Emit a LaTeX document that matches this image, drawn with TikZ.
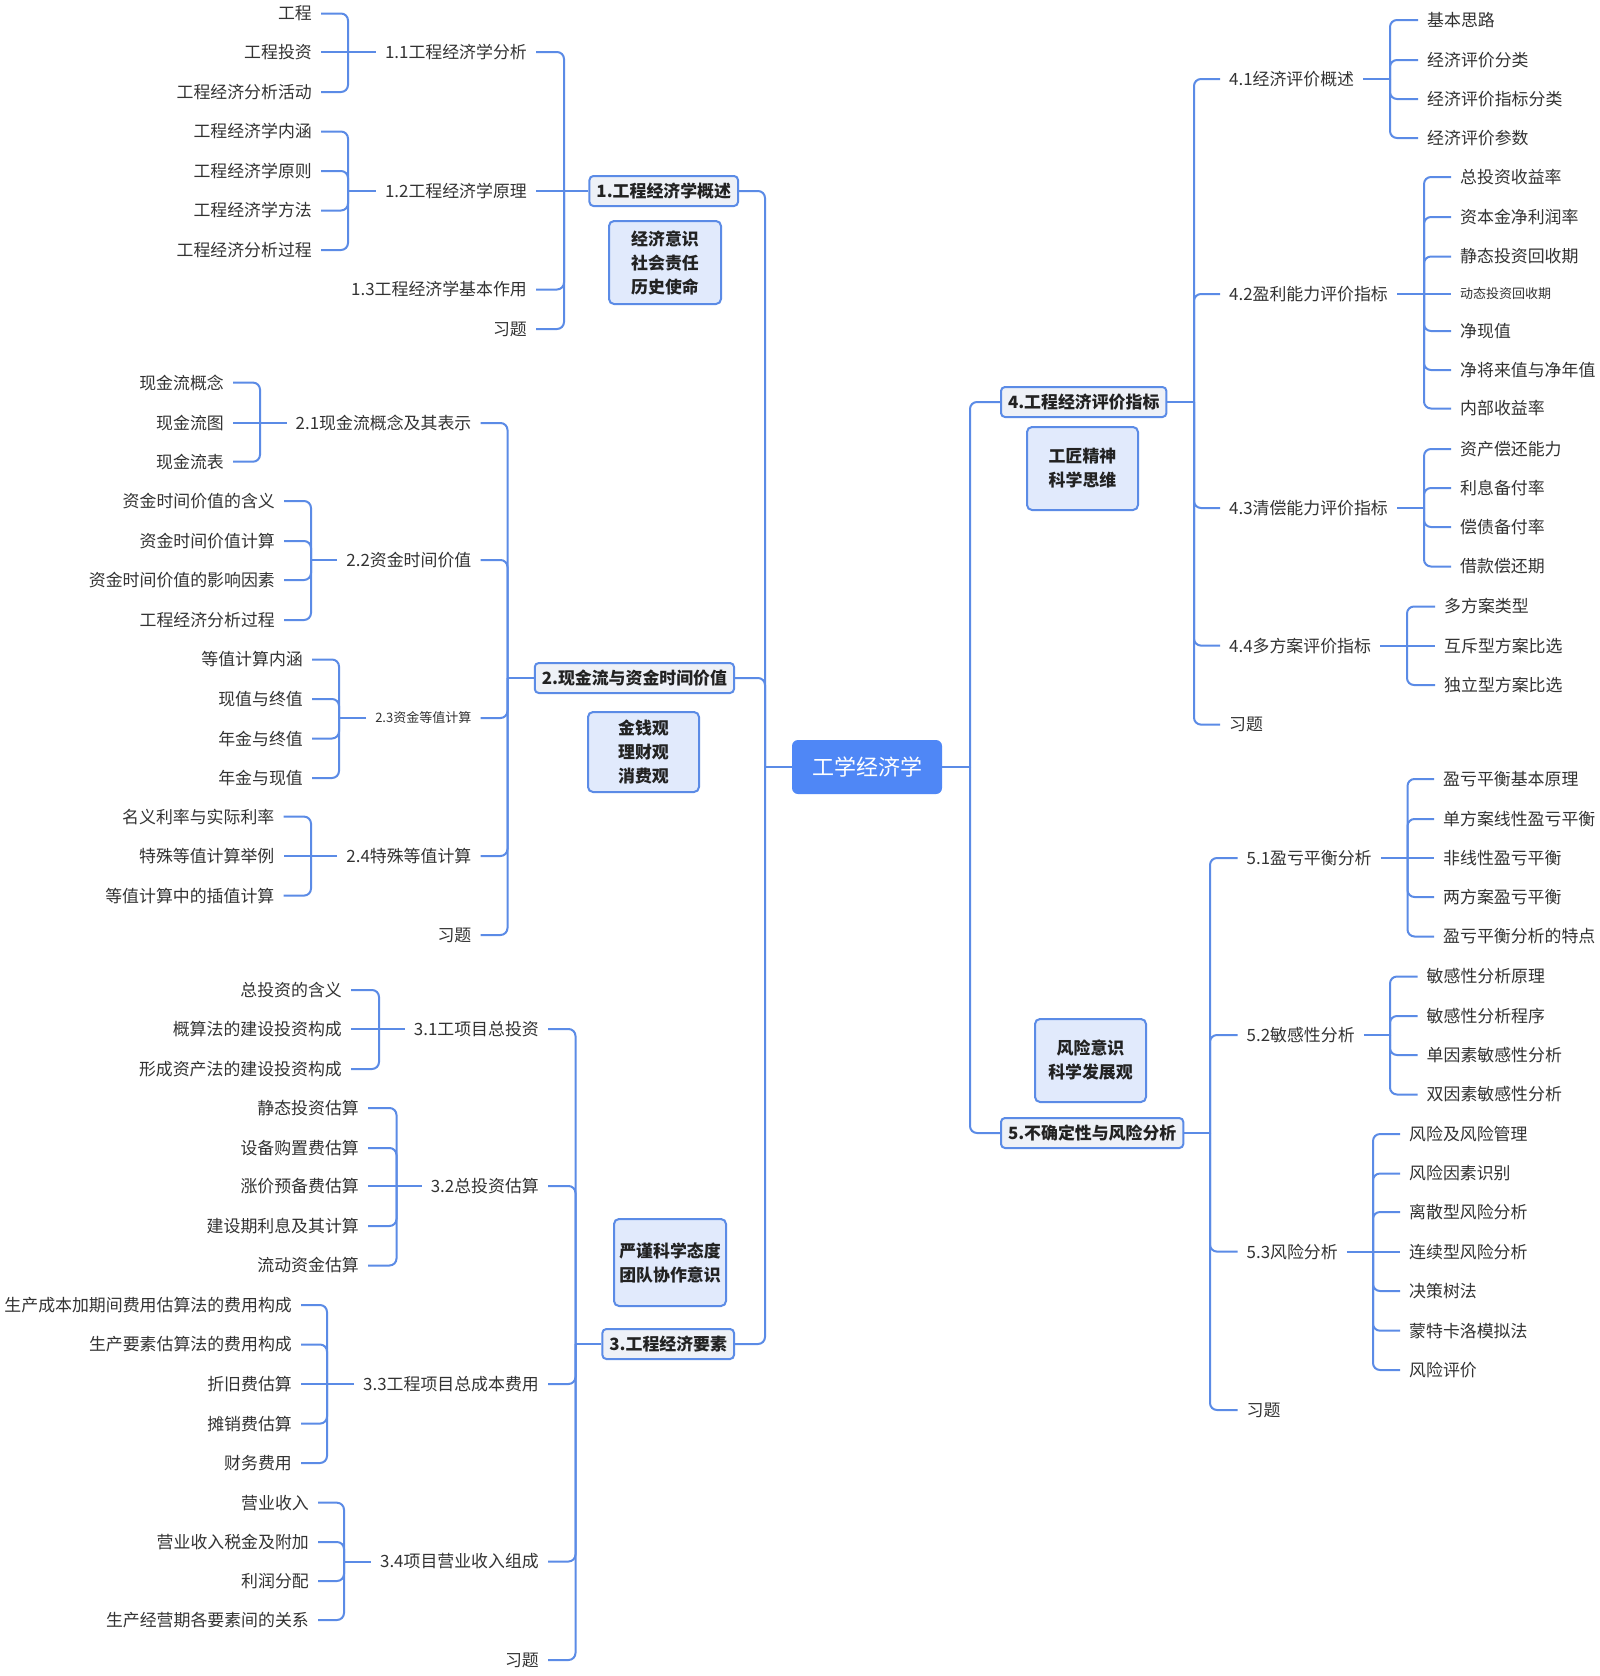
\documentclass[tikz,border=0pt]{standalone}
\usepackage{fontspec}
\setmainfont{Noto Sans CJK SC}
\definecolor{ln}{HTML}{5B8BE6}
\definecolor{rootc}{HTML}{4F87F6}
\definecolor{lonef}{HTML}{EEF1F7}
\definecolor{valf}{HTML}{E1EAFC}
\definecolor{txt}{HTML}{333333}
\definecolor{btxt}{HTML}{222222}
\tikzset{
 conn/.style={draw=ln, line width=2pt, rounded corners=7pt},
 leaf/.style={inner sep=0pt, text=txt, font=\fontsize{16.9}{20}\selectfont},
 L/.style={leaf, anchor=east},
 R/.style={leaf, anchor=west},
 sm/.style={font=\fontsize{13}{16}\selectfont},
 lone/.style={draw=ln, line width=2pt, fill=lonef, rounded corners=4pt, text=btxt, font=\bfseries\fontsize{16.9}{20}\selectfont, inner xsep=7pt, inner ysep=0pt, minimum height=30pt},
 valbox/.style={draw=ln, line width=2pt, fill=valf, rounded corners=5pt, text=btxt, font=\bfseries\fontsize{16.9}{24}\selectfont, align=center, inner sep=0pt},
 rootbox/.style={fill=rootc, rounded corners=6pt, text=white, font=\fontsize{22}{26}\selectfont, minimum width=150pt, minimum height=54pt, inner sep=0pt}
}
% left-side kid link, right-side kid link, straight variants, parent stubs
\newcommand\mmKL[2]{\draw[conn] (#1) |- ([xshift=9pt]#2.east);}
\newcommand\mmKR[2]{\draw[conn] (#1) |- ([xshift=-9pt]#2.west);}
\newcommand\mmSL[2]{\draw[conn] (#1) -- ([xshift=9pt]#2.east);}
\newcommand\mmSR[2]{\draw[conn] (#1) -- ([xshift=-9pt]#2.west);}
\newcommand\mmPL[2]{\draw[conn] ([xshift=-9pt]#1.west) -- (#2);}
\newcommand\mmPR[2]{\draw[conn] ([xshift=9pt]#1.east) -- (#2);}
\begin{document}
\begin{tikzpicture}[x=1pt,y=-1pt]
\fill[white] (0,0) rectangle (1600,1676);
\useasboundingbox (0,0) rectangle (1600,1676);

% ---------- root ----------
\node[rootbox] (root) at (867,767) {工学经济学};
\coordinate (ML) at (765,767);
\coordinate (MR) at (970,767);

% ---------- level 1 ----------
\node[lone, anchor=east] (b1) at (739,191) {1.工程经济学概述};
\node[lone, anchor=east] (b2) at (735,678) {2.现金流与资金时间价值};
\node[lone, anchor=east] (b3) at (735,1344) {3.工程经济要素};
\node[lone, anchor=west] (b4) at (1000,402) {4.工程经济评价指标};
\node[lone, anchor=west] (b5) at (1000,1133) {5.不确定性与风险分析};

% ---------- value boxes ----------
\node[valbox, minimum width=112pt, minimum height=83pt] (v1) at (665,262.5) {经济意识\\社会责任\\历史使命};
\node[valbox, minimum width=111pt, minimum height=80pt] (v2) at (643.5,752) {金钱观\\理财观\\消费观};
\node[valbox, minimum width=112pt, minimum height=87pt] (v3) at (670,1262.5) {严谨科学态度\\团队协作意识};
\node[valbox, minimum width=111pt, minimum height=83pt] (v4) at (1082.5,468.5) {工匠精神\\科学思维};
\node[valbox, minimum width=111pt, minimum height=83pt] (v5) at (1090.5,1060.5) {风险意识\\科学发展观};

\draw[conn] (root.west) -- (ML);
\draw[conn] (ML) |- (b1.east);
\draw[conn] (ML) |- (b2.east);
\draw[conn] (ML) |- (b3.east);
\draw[conn] (root.east) -- (MR);
\draw[conn] (MR) |- (b4.west);
\draw[conn] (MR) |- (b5.west);

% ---------- branch 1 ----------
\coordinate (S1) at (564,191);
\node[L] (n11) at (527,52) {1.1工程经济学分析};
\node[L] (n12) at (527,191) {1.2工程经济学原理};
\node[L] (n13) at (527,289.5) {1.3工程经济学基本作用};
\node[L] (n14) at (527,329) {习题};
\coordinate (S11) at (348,52);
\node[L] (a111) at (312,13.5) {工程};
\node[L] (a112) at (312,52) {工程投资};
\node[L] (a113) at (312,92) {工程经济分析活动};
\coordinate (S12) at (348,191);
\node[L] (a121) at (312,131.5) {工程经济学内涵};
\node[L] (a122) at (312,171) {工程经济学原则};
\node[L] (a123) at (312,210.5) {工程经济学方法};
\node[L] (a124) at (312,250) {工程经济分析过程};
\draw[conn] (b1.west) -- (S1);
\mmKL{S1}{n11}\mmSL{S1}{n12}\mmKL{S1}{n13}\mmKL{S1}{n14}
\mmPL{n11}{S11}\mmKL{S11}{a111}\mmSL{S11}{a112}\mmKL{S11}{a113}
\mmPL{n12}{S12}\mmKL{S12}{a121}\mmKL{S12}{a122}\mmKL{S12}{a123}\mmKL{S12}{a124}

% ---------- branch 2 ----------
\coordinate (S2) at (507.5,678);
\node[L] (n21) at (471.5,423) {2.1现金流概念及其表示};
\node[L] (n22) at (471.5,560) {2.2资金时间价值};
\node[L,sm] (n23) at (471.5,718) {2.3资金等值计算};
\node[L] (n24) at (471.5,856) {2.4特殊等值计算};
\node[L] (n25) at (471.5,935) {习题};
\coordinate (S21) at (260,423);
\node[L] (a211) at (224,382.6) {现金流概念};
\node[L] (a212) at (224,423) {现金流图};
\node[L] (a213) at (224,461.7) {现金流表};
\coordinate (S22) at (311,560);
\node[L] (a221) at (275,501) {资金时间价值的含义};
\node[L] (a222) at (275,541) {资金时间价值计算};
\node[L] (a223) at (275,580) {资金时间价值的影响因素};
\node[L] (a224) at (275,620) {工程经济分析过程};
\coordinate (S23) at (339,718);
\node[L] (a231) at (303,659.5) {等值计算内涵};
\node[L] (a232) at (303,699) {现值与终值};
\node[L] (a233) at (303,738.5) {年金与终值};
\node[L] (a234) at (303,778) {年金与现值};
\coordinate (S24) at (311,856);
\node[L] (a241) at (274.5,816.6) {名义利率与实际利率};
\node[L] (a242) at (274.5,856) {特殊等值计算举例};
\node[L] (a243) at (274.5,895.6) {等值计算中的插值计算};
\draw[conn] (b2.west) -- (S2);
\mmKL{S2}{n21}\mmKL{S2}{n22}\mmKL{S2}{n23}\mmKL{S2}{n24}\mmKL{S2}{n25}
\mmPL{n21}{S21}\mmKL{S21}{a211}\mmSL{S21}{a212}\mmKL{S21}{a213}
\mmPL{n22}{S22}\mmKL{S22}{a221}\mmKL{S22}{a222}\mmKL{S22}{a223}\mmKL{S22}{a224}
\mmPL{n23}{S23}\mmKL{S23}{a231}\mmKL{S23}{a232}\mmKL{S23}{a233}\mmKL{S23}{a234}
\mmPL{n24}{S24}\mmKL{S24}{a241}\mmSL{S24}{a242}\mmKL{S24}{a243}

% ---------- branch 3 ----------
\coordinate (S3) at (575.5,1344);
\node[L] (n31) at (539,1029) {3.1工项目总投资};
\node[L] (n32) at (539,1186) {3.2总投资估算};
\node[L] (n33) at (539,1384) {3.3工程项目总成本费用};
\node[L] (n34) at (539,1561.5) {3.4项目营业收入组成};
\node[L] (n35) at (539,1660) {习题};
\coordinate (S31) at (379,1029);
\node[L] (a311) at (342,990) {总投资的含义};
\node[L] (a312) at (342,1029) {概算法的建设投资构成};
\node[L] (a313) at (342,1069) {形成资产法的建设投资构成};
\coordinate (S32) at (396.5,1186);
\node[L] (a321) at (359,1108) {静态投资估算};
\node[L] (a322) at (359,1148) {设备购置费估算};
\node[L] (a323) at (359,1186) {涨价预备费估算};
\node[L] (a324) at (359,1226) {建设期利息及其计算};
\node[L] (a325) at (359,1265.5) {流动资金估算};
\coordinate (S33) at (327,1384);
\node[L] (a331) at (292,1305) {生产成本加期间费用估算法的费用构成};
\node[L] (a332) at (292,1344.5) {生产要素估算法的费用构成};
\node[L] (a333) at (292,1384) {折旧费估算};
\node[L] (a334) at (292,1423.6) {摊销费估算};
\node[L] (a335) at (292,1463) {财务费用};
\coordinate (S34) at (344,1561.5);
\node[L] (a341) at (309,1502.7) {营业收入};
\node[L] (a342) at (309,1542) {营业收入税金及附加};
\node[L] (a343) at (309,1581) {利润分配};
\node[L] (a344) at (309,1620) {生产经营期各要素间的关系};
\draw[conn] (b3.west) -- (S3);
\mmKL{S3}{n31}\mmKL{S3}{n32}\mmKL{S3}{n33}\mmKL{S3}{n34}\mmKL{S3}{n35}
\mmPL{n31}{S31}\mmKL{S31}{a311}\mmSL{S31}{a312}\mmKL{S31}{a313}
\mmPL{n32}{S32}\mmKL{S32}{a321}\mmKL{S32}{a322}\mmSL{S32}{a323}\mmKL{S32}{a324}\mmKL{S32}{a325}
\mmPL{n33}{S33}\mmKL{S33}{a331}\mmKL{S33}{a332}\mmSL{S33}{a333}\mmKL{S33}{a334}\mmKL{S33}{a335}
\mmPL{n34}{S34}\mmKL{S34}{a341}\mmKL{S34}{a342}\mmKL{S34}{a343}\mmKL{S34}{a344}

% ---------- branch 4 ----------
\coordinate (S4) at (1194,402);
\node[R] (n41) at (1229,79) {4.1经济评价概述};
\node[R] (n42) at (1229,294) {4.2盈利能力评价指标};
\node[R] (n43) at (1229,508) {4.3清偿能力评价指标};
\node[R] (n44) at (1229,645.6) {4.4多方案评价指标};
\node[R] (n45) at (1229,724.6) {习题};
\coordinate (S41) at (1390,79);
\node[R] (a411) at (1427,20) {基本思路};
\node[R] (a412) at (1427,60) {经济评价分类};
\node[R] (a413) at (1427,99) {经济评价指标分类};
\node[R] (a414) at (1427,138) {经济评价参数};
\coordinate (S42) at (1424,294);
\node[R] (a421) at (1460,177) {总投资收益率};
\node[R] (a422) at (1460,217) {资本金净利润率};
\node[R] (a423) at (1460,256.5) {静态投资回收期};
\node[R,sm] (a424) at (1460,294) {动态投资回收期};
\node[R] (a425) at (1460,331) {净现值};
\node[R] (a426) at (1460,370) {净将来值与净年值};
\node[R] (a427) at (1460,408.5) {内部收益率};
\coordinate (S43) at (1424,508);
\node[R] (a431) at (1460,449) {资产偿还能力};
\node[R] (a432) at (1460,488) {利息备付率};
\node[R] (a433) at (1460,527) {偿债备付率};
\node[R] (a434) at (1460,566.5) {借款偿还期};
\coordinate (S44) at (1407,645.6);
\node[R] (a441) at (1444,606.5) {多方案类型};
\node[R] (a442) at (1444,645.6) {互斥型方案比选};
\node[R] (a443) at (1444,685) {独立型方案比选};
\draw[conn] (b4.east) -- (S4);
\mmKR{S4}{n41}\mmKR{S4}{n42}\mmKR{S4}{n43}\mmKR{S4}{n44}\mmKR{S4}{n45}
\mmPR{n41}{S41}\mmKR{S41}{a411}\mmKR{S41}{a412}\mmKR{S41}{a413}\mmKR{S41}{a414}
\mmPR{n42}{S42}\mmKR{S42}{a421}\mmKR{S42}{a422}\mmKR{S42}{a423}\mmSR{S42}{a424}\mmKR{S42}{a425}\mmKR{S42}{a426}\mmKR{S42}{a427}
\mmPR{n43}{S43}\mmKR{S43}{a431}\mmKR{S43}{a432}\mmKR{S43}{a433}\mmKR{S43}{a434}
\mmPR{n44}{S44}\mmKR{S44}{a441}\mmSR{S44}{a442}\mmKR{S44}{a443}

% ---------- branch 5 ----------
\coordinate (S5) at (1210,1133);
\node[R] (n51) at (1246.5,858) {5.1盈亏平衡分析};
\node[R] (n52) at (1246.5,1035) {5.2敏感性分析};
\node[R] (n53) at (1246.5,1251.6) {5.3风险分析};
\node[R] (n54) at (1246.5,1410) {习题};
\coordinate (S51) at (1407.5,858);
\node[R] (a511) at (1443,779) {盈亏平衡基本原理};
\node[R] (a512) at (1443,819) {单方案线性盈亏平衡};
\node[R] (a513) at (1443,858) {非线性盈亏平衡};
\node[R] (a514) at (1443,897) {两方案盈亏平衡};
\node[R] (a515) at (1443,936.5) {盈亏平衡分析的特点};
\coordinate (S52) at (1390,1035);
\node[R] (a521) at (1426.5,976.5) {敏感性分析原理};
\node[R] (a522) at (1426.5,1016) {敏感性分析程序};
\node[R] (a523) at (1426.5,1055) {单因素敏感性分析};
\node[R] (a524) at (1426.5,1094.5) {双因素敏感性分析};
\coordinate (S53) at (1373,1251.6);
\node[R] (a531) at (1409,1134) {风险及风险管理};
\node[R] (a532) at (1409,1173.5) {风险因素识别};
\node[R] (a533) at (1409,1212) {离散型风险分析};
\node[R] (a534) at (1409,1251.6) {连续型风险分析};
\node[R] (a535) at (1409,1291) {决策树法};
\node[R] (a536) at (1409,1330.7) {蒙特卡洛模拟法};
\node[R] (a537) at (1409,1370) {风险评价};
\draw[conn] (b5.east) -- (S5);
\mmKR{S5}{n51}\mmKR{S5}{n52}\mmKR{S5}{n53}\mmKR{S5}{n54}
\mmPR{n51}{S51}\mmKR{S51}{a511}\mmKR{S51}{a512}\mmSR{S51}{a513}\mmKR{S51}{a514}\mmKR{S51}{a515}
\mmPR{n52}{S52}\mmKR{S52}{a521}\mmKR{S52}{a522}\mmKR{S52}{a523}\mmKR{S52}{a524}
\mmPR{n53}{S53}\mmKR{S53}{a531}\mmKR{S53}{a532}\mmKR{S53}{a533}\mmSR{S53}{a534}\mmKR{S53}{a535}\mmKR{S53}{a536}\mmKR{S53}{a537}
\end{tikzpicture}
\end{document}
